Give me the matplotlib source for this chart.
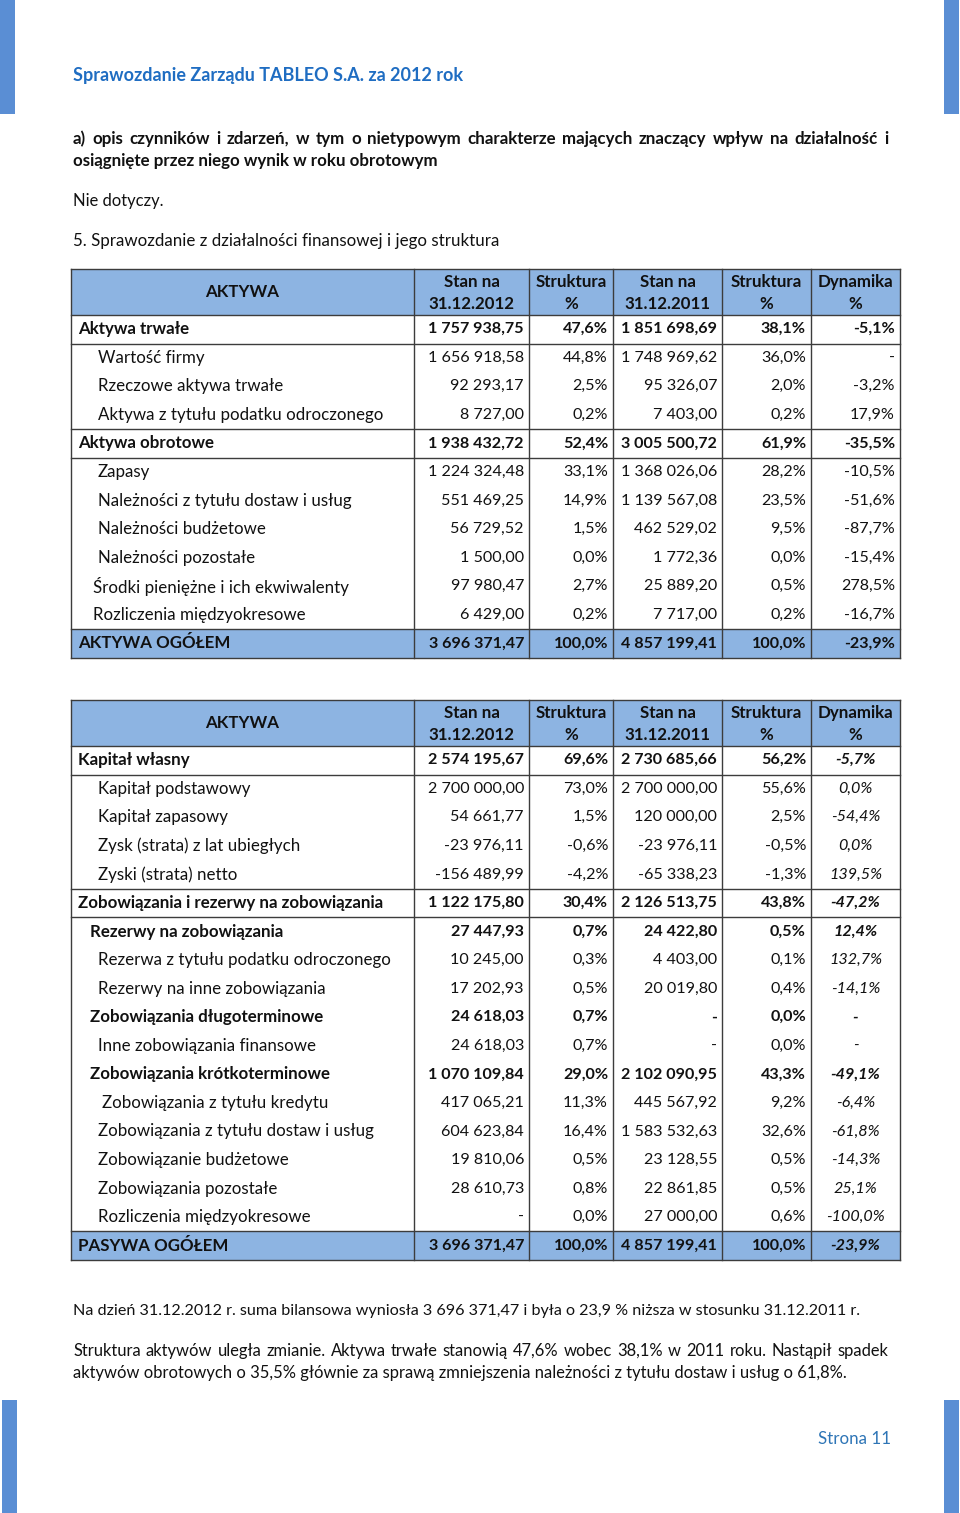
import matplotlib.pyplot as plt
from matplotlib.patches import Rectangle

plt.rcParams['font.family'] = ['Lato', 'DejaVu Sans']

# ---- data ----
header_cols = ['Stan na\n31.12.2012', 'Struktura\n%', 'Stan na\n31.12.2011', 'Struktura\n%', 'Dynamika\n%']

# aktywa: label, indent x, bold, values
akt_labels = ['Aktywa trwałe', 'Wartość firmy', 'Rzeczowe aktywa trwałe', 'Aktywa z tytułu podatku odroczonego',
              'Aktywa obrotowe', 'Zapasy', 'Należności z tytułu dostaw i usług', 'Należności budżetowe',
              'Należności pozostałe', 'Środki pieniężne i ich ekwiwalenty', 'Rozliczenia międzyokresowe',
              'AKTYWA OGÓŁEM']
akt_indent = [78, 98, 98, 98, 78, 98, 98, 98, 98, 93, 93, 78]
akt_bold = [True, False, False, False, True, False, False, False, False, False, False, True]
akt_stan12 = ['1 757 938,75', '1 656 918,58', '92 293,17', '8 727,00', '1 938 432,72', '1 224 324,48',
              '551 469,25', '56 729,52', '1 500,00', '97 980,47', '6 429,00', '3 696 371,47']
akt_str12 = ['47,6%', '44,8%', '2,5%', '0,2%', '52,4%', '33,1%', '14,9%', '1,5%', '0,0%', '2,7%', '0,2%', '100,0%']
akt_stan11 = ['1 851 698,69', '1 748 969,62', '95 326,07', '7 403,00', '3 005 500,72', '1 368 026,06',
              '1 139 567,08', '462 529,02', '1 772,36', '25 889,20', '7 717,00', '4 857 199,41']
akt_str11 = ['38,1%', '36,0%', '2,0%', '0,2%', '61,9%', '28,2%', '23,5%', '9,5%', '0,0%', '0,5%', '0,2%', '100,0%']
akt_dyn = ['-5,1%', '-', '-3,2%', '17,9%', '-35,5%', '-10,5%', '-51,6%', '-87,7%', '-15,4%', '278,5%', '-16,7%', '-23,9%']
akt_lines = [0, 1, 4, 5, 11, 12]   # rows with a horizontal rule above

pas_labels = ['Kapitał własny', 'Kapitał podstawowy', 'Kapitał zapasowy', 'Zysk (strata) z lat ubiegłych',
              'Zyski (strata) netto', 'Zobowiązania i rezerwy na zobowiązania', 'Rezerwy na zobowiązania',
              'Rezerwa z tytułu podatku odroczonego', 'Rezerwy na inne zobowiązania', 'Zobowiązania długoterminowe',
              'Inne zobowiązania finansowe', 'Zobowiązania krótkoterminowe', 'Zobowiązania z tytułu kredytu',
              'Zobowiązania z tytułu dostaw i usług', 'Zobowiązanie budżetowe', 'Zobowiązania pozostałe',
              'Rozliczenia międzyokresowe', 'PASYWA OGÓŁEM']
pas_indent = [78, 98, 98, 98, 98, 78, 90, 98, 98, 90, 98, 90, 102, 98, 98, 98, 98, 78]
pas_bold = [True, False, False, False, False, True, True, False, False, True, False, True,
            False, False, False, False, False, True]
pas_stan12 = ['2 574 195,67', '2 700 000,00', '54 661,77', '-23 976,11', '-156 489,99', '1 122 175,80',
              '27 447,93', '10 245,00', '17 202,93', '24 618,03', '24 618,03', '1 070 109,84', '417 065,21',
              '604 623,84', '19 810,06', '28 610,73', '-', '3 696 371,47']
pas_str12 = ['69,6%', '73,0%', '1,5%', '-0,6%', '-4,2%', '30,4%', '0,7%', '0,3%', '0,5%', '0,7%', '0,7%',
             '29,0%', '11,3%', '16,4%', '0,5%', '0,8%', '0,0%', '100,0%']
pas_stan11 = ['2 730 685,66', '2 700 000,00', '120 000,00', '-23 976,11', '-65 338,23', '2 126 513,75',
              '24 422,80', '4 403,00', '20 019,80', '-', '-', '2 102 090,95', '445 567,92', '1 583 532,63',
              '23 128,55', '22 861,85', '27 000,00', '4 857 199,41']
pas_str11 = ['56,2%', '55,6%', '2,5%', '-0,5%', '-1,3%', '43,8%', '0,5%', '0,1%', '0,4%', '0,0%', '0,0%',
             '43,3%', '9,2%', '32,6%', '0,5%', '0,5%', '0,6%', '100,0%']
pas_dyn = ['-5,7%', '0,0%', '-54,4%', '0,0%', '139,5%', '-47,2%', '12,4%', '132,7%', '-14,1%', '-', '-',
           '-49,1%', '-6,4%', '-61,8%', '-14,3%', '25,1%', '-100,0%', '-23,9%']
pas_lines = [0, 1, 5, 6, 17, 18]

BLUE_FILL = '#8DB4E2'
EDGE = '#3c3c3c'
BAR = '#5A8ED4'
FS = 12.2      # labels
FSN = 11.6     # numbers
FSP = 11.9     # paragraphs
INK = '#111111'

fig = plt.figure(figsize=(9.6, 15.13), dpi=100)
ax = fig.add_axes([0, 0, 1, 1])
ax.set_xlim(0, 960)
ax.set_ylim(1513, 0)
ax.axis('off')

# side bars
for x0, y0, h in [(0, 0, 114), (944, 0, 114), (2, 1400, 113), (944, 1400, 113)]:
    ax.add_patch(Rectangle((x0, y0), 15, h, color=BAR, lw=0))

ax.text(73, 76, 'Sprawozdanie Zarządu TABLEO S.A. za 2012 rok', fontsize=13.0, fontweight='bold',
        color='#1F6DC2', va='center')
ax.text(818, 1439, 'Strona 11', fontsize=FS, color='#2E75B6', va='center')

fig.canvas.draw()
renderer = fig.canvas.get_renderer()


def justify(line, x0, x1, y, **kw):
    words = line.split(' ')
    objs = [ax.text(0, y, w, va='center', **kw) for w in words]
    inv = ax.transData.inverted()
    widths = []
    for o in objs:
        bb = o.get_window_extent(renderer)
        p0 = inv.transform((bb.x0, bb.y0))
        p1 = inv.transform((bb.x1, bb.y0))
        widths.append(p1[0] - p0[0])
    gap = (x1 - x0 - sum(widths)) / (len(words) - 1)
    x = x0
    for o, w in zip(objs, widths):
        o.set_x(x)
        x += w + gap


justify('a) opis czynników i zdarzeń, w tym o nietypowym charakterze mających znaczący wpływ na działalność i',
        73, 888, 139, fontsize=FS, fontweight='bold', color=INK)
ax.text(73, 161, 'osiągnięte przez niego wynik w roku obrotowym', fontsize=FS, fontweight='bold',
        color=INK, va='center')
ax.text(73, 201, 'Nie dotyczy.', fontsize=FSP, color=INK, va='center')
ax.text(73, 241, '5. Sprawozdanie z działalności finansowej i jego struktura', fontsize=FS,
        color=INK, va='center')

col_x = [71, 414, 529, 613, 722, 811, 900]
row_h = 28.55


def draw_table(top, labels, indent, bold, cols, lines, italic_dyn):
    head_h = 46
    n = len(labels)
    body_top = top + head_h
    bottom = body_top + n * row_h
    # header + total fills
    ax.add_patch(Rectangle((col_x[0], top), col_x[-1] - col_x[0], head_h, color=BLUE_FILL, lw=0))
    ax.add_patch(Rectangle((col_x[0], bottom - row_h), col_x[-1] - col_x[0], row_h, color=BLUE_FILL, lw=0))
    # grid
    for x in col_x:
        ax.plot([x, x], [top, bottom], color=EDGE, lw=1.0)
    ax.plot([col_x[0], col_x[-1]], [top, top], color=EDGE, lw=1.0)
    for r in lines:
        y = body_top + r * row_h
        ax.plot([col_x[0], col_x[-1]], [y, y], color=EDGE, lw=1.0)
    # header text
    ax.text((col_x[0] + col_x[1]) / 2, top + head_h / 2, 'AKTYWA', fontsize=FS, fontweight='bold',
            ha='center', va='center', color=INK)
    for j, h in enumerate(header_cols):
        cx = (col_x[j + 1] + col_x[j + 2]) / 2
        for k, part in enumerate(h.split('\n')):
            ax.text(cx, top + 13 + k * 22, part, fontsize=FS, fontweight='bold', ha='center', va='center',
                    color=INK)
    # body
    for i in range(n):
        y = body_top + (i + 0.5) * row_h
        w = 'bold' if bold[i] else 'normal'
        ax.text(indent[i], y, labels[i], fontsize=FS, fontweight=w, va='center', color=INK)
        for j, col in enumerate(cols):
            last = j == len(cols) - 1
            if last and italic_dyn:
                ax.text((col_x[5] + col_x[6]) / 2, y, col[i], fontsize=FSN, fontweight=w, style='italic',
                        ha='center', va='center', color=INK)
            else:
                ax.text(col_x[j + 2] - 5, y, col[i], fontsize=FSN, fontweight=w, ha='right', va='center',
                        color=INK)


draw_table(269, akt_labels, akt_indent, akt_bold,
           [akt_stan12, akt_str12, akt_stan11, akt_str11, akt_dyn], akt_lines, False)
draw_table(700, pas_labels, pas_indent, pas_bold,
           [pas_stan12, pas_str12, pas_stan11, pas_str11, pas_dyn], pas_lines, True)

ax.text(73, 1311, 'Na dzień 31.12.2012 r. suma bilansowa wyniosła 3 696 371,47 i była o 23,9 % niższa '
        'w stosunku 31.12.2011 r.', fontsize=11.6, color=INK, va='center')
justify('Struktura aktywów uległa zmianie. Aktywa trwałe stanowią 47,6% wobec 38,1% w 2011 roku. Nastąpił spadek',
        73, 888, 1351, fontsize=FSP, color=INK)
ax.text(73, 1373, 'aktywów obrotowych o 35,5% głównie za sprawą zmniejszenia należności z tytułu dostaw '
        'i usług o 61,8%.', fontsize=FSP, color=INK, va='center')

fig.savefig('out.png', dpi=100)
